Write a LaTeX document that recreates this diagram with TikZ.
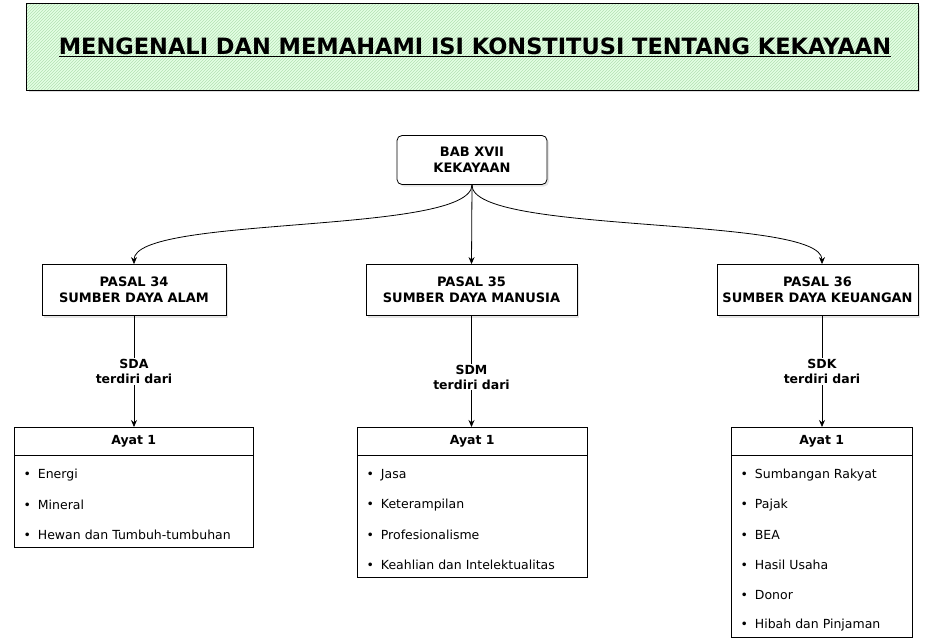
\documentclass[tikz,border=0pt]{standalone}
\usepackage{fontspec}
\setmainfont{DejaVu Sans}
\usepackage{tikz}
\usetikzlibrary{patterns,shadows,arrows.meta}

\tikzset{
	pasal/.style={draw,thick,minimum height=51pt,align=center,font=\bfseries\fontsize{13}{16}\selectfont,fill=white,drop shadow={opacity=0.2,shadow xshift=2pt,shadow yshift=-2pt}},
	ayathead/.style={draw,minimum height=28pt,anchor=north west,font=\bfseries\fontsize{12.5}{15}\selectfont},
	ayatbody/.style={draw,anchor=north west},
	item/.style={anchor=west,font=\fontsize{12.5}{15}\selectfont},
	link/.style={thick,-{Stealth[length=7pt,width=6pt]}},
	linklabel/.style={fill=white,align=center,font=\bfseries\fontsize{12.5}{15}\selectfont,inner sep=1pt}
}

\begin{document}
\begin{tikzpicture}[x=1pt,y=-1pt]
	\useasboundingbox (0,0) rectangle (934,641);
	% title
	\node[minimum width=891pt,minimum height=86pt,fill=green!10,postaction={pattern=north east lines,pattern color=green!60!black!30},drop shadow={opacity=0.25,shadow xshift=2pt,shadow yshift=-2pt}] (title) at (472.5,47) {};
	\draw[thick] (title.north west) rectangle (title.south east);
	\node[font=\bfseries\fontsize{22.5}{26}\selectfont] (titletext) at (475,47) {\underline{MENGENALI DAN MEMAHAMI ISI KONSTITUSI TENTANG KEKAYAAN}};
	% chapter
	\node[pasal,rounded corners=5pt,minimum width=150pt,minimum height=49pt] (bab) at (472,160) {BAB XVII\\KEKAYAAN};
	% articles
	\node[pasal,minimum width=184pt] (p34) at (134,290) {PASAL 34\\SUMBER DAYA ALAM};
	\node[pasal,minimum width=211pt] (p35) at (471.5,290) {PASAL 35\\SUMBER DAYA MANUSIA};
	\node[pasal,minimum width=201pt] (p36) at (817.5,290) {PASAL 36\\SUMBER DAYA KEUANGAN};
	\draw[link] (bab.south) .. controls (471,235) and (134,215) .. (p34.north);
	\draw[link] (bab.south) -- (p35.north);
	\draw[link] (bab.south) .. controls (471,235) and (822,215) .. (p36.north-|822,0);
	% verses
	\node[ayathead,minimum width=239pt] (a34) at (14,427) {Ayat 1};
	\node[ayatbody,minimum width=239pt,minimum height=92pt] (b34) at (a34.south west) {};
	\node[ayathead,minimum width=230pt] (a35) at (357,427) {Ayat 1};
	\node[ayatbody,minimum width=230pt,minimum height=122pt] (b35) at (a35.south west) {};
	\node[ayathead,minimum width=181pt] (a36) at (731,427) {Ayat 1};
	\node[ayatbody,minimum width=181pt,minimum height=182pt] (b36) at (a36.south west) {};
	\draw[link] (p34.south) -- node[linklabel,pos=0.5] (l34) {SDA\\terdiri dari} (a34.north-|p34.south);
	\draw[link] (p35.south) -- node[linklabel,pos=0.55] (l35) {SDM\\terdiri dari} (a35.north-|p35.south);
	\draw[link] (p36.south-|822,0) -- node[linklabel,pos=0.5] (l36) {SDK\\terdiri dari} (a36.north-|822,0);
	% items
	\foreach \t [count=\i] in {Energi,Mineral,Hewan dan Tumbuh-tumbuhan}{
		\node[item] (i34\i) at (20,445+30*\i) {\textbullet\hspace{7pt}\t};
	}
	\foreach \t [count=\i] in {Jasa,Keterampilan,Profesionalisme,Keahlian dan Intelektualitas}{
		\node[item] (i35\i) at (363,445+30*\i) {\textbullet\hspace{7pt}\t};
	}
	\foreach \t [count=\i] in {Sumbangan Rakyat,Pajak,BEA,Hasil Usaha,Donor,Hibah dan Pinjaman}{
		\node[item] (i36\i) at (737,445+30*\i) {\textbullet\hspace{7pt}\t};
	}
\end{tikzpicture}
\end{document}
